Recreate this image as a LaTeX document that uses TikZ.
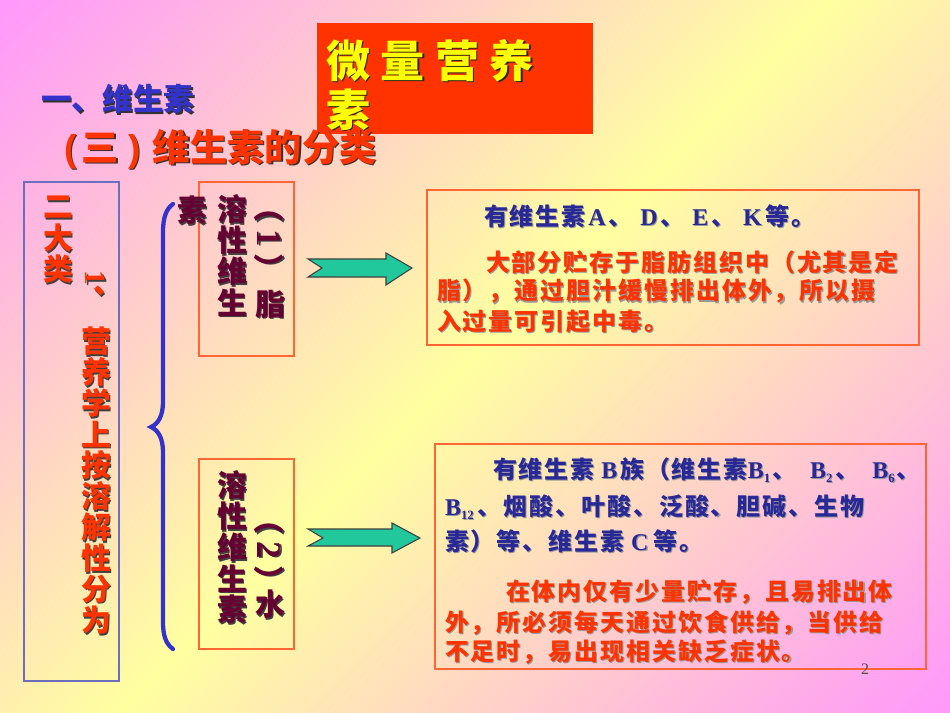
\documentclass[tikz,border=0pt]{standalone}
\usepackage{fontspec}
\usetikzlibrary{fit}
\setmainfont{Liberation Serif}
\newfontfamily\cjk{Noto Sans CJK SC}
\newfontfamily\cjkb{Noto Sans CJK SC}[LetterSpace=8]
\newfontfamily\lat{Liberation Serif}
\newfontfamily\sansl{Liberation Sans}

\definecolor{bgpink}{RGB}{255,153,250}
\definecolor{bgyellow}{RGB}{255,255,160}
\definecolor{titlebg}{RGB}{255,51,0}
\definecolor{ttyellow}{RGB}{255,255,0}
\definecolor{redtxt}{RGB}{255,51,0}
\definecolor{headblue}{RGB}{51,51,204}
\definecolor{bodyblue}{RGB}{40,40,150}
\definecolor{maroontxt}{RGB}{102,0,51}
\definecolor{boxline}{RGB}{255,102,51}
\definecolor{lavline}{RGB}{110,110,190}
\definecolor{bracecol}{RGB}{51,51,204}
\definecolor{arrowfill}{RGB}{32,200,155}

\pgfdeclarehorizontalshading{bgdiag}{100bp}{color(0bp)=(bgpink); color(15bp)=(bgpink); color(50bp)=(bgyellow); color(85bp)=(bgpink); color(100bp)=(bgpink)}

\newcommand\shd[2][black!75]{\leavevmode\rlap{\kern1.1pt\raisebox{-1.1pt}{\color{#1}#2}}#2}
\newcommand\shdr[2][black!75]{\leavevmode\rlap{\kern1.1pt\raisebox{1.1pt}{\color{#1}#2}}#2}
\newcommand\shdb[1]{\leavevmode\rlap{\kern0.8pt\raisebox{-0.8pt}{\color{black!40}#1}}#1}
\newcommand\subs[1]{\raisebox{-3pt}{\fontsize{9.5}{10}\selectfont #1}}

\tikzset{
  txt/.style={inner sep=0pt, outer sep=0pt},
  vch/.style={txt, font=\cjk\bfseries\fontsize{22.5}{24}\selectfont},
  body/.style={txt, anchor=west, font=\cjkb\bfseries\fontsize{18}{20}\selectfont},
  framebox/.style={draw=boxline, line width=1.1pt, inner sep=0pt, outer sep=0pt},
  blockarrow/.style={fill=arrowfill, draw=black!75, line width=0.8pt, line join=miter},
}

\begin{document}
\begin{tikzpicture}[x=0.75pt,y=-0.75pt]
\useasboundingbox (0,0) rectangle (950,713);
\shade[shading=bgdiag, shading angle=-45] (0,0) rectangle (950,713);

% title box
\node[fit={(317,23) (593,134)}, inner sep=0pt, fill=titlebg] (tbox) {};
\node[txt, anchor=west, font=\cjk\bfseries\fontsize{33}{36}\selectfont, text=ttyellow] (tt1) at (326,61)
  {\shd[black!85]{微\kern8pt 量\kern8pt 营\kern8pt 养}};
\node[txt, anchor=west, font=\cjk\bfseries\fontsize{33}{36}\selectfont, text=ttyellow] (tt2) at (326,110)
  {\shd[black!85]{素}};

% headings
\node[txt, anchor=west, font=\cjk\bfseries\fontsize{23}{25}\selectfont, text=headblue] (h1) at (41,100)
  {\shd[black!80]{一、维生素}};
\node[txt, anchor=west, font=\cjk\bfseries\fontsize{28}{30}\selectfont, text=redtxt] (h2) at (64,150)
  {\shd[black!80]{{\sansl\bfseries (}\kern4pt 三\kern7pt{\sansl\bfseries )}\kern9pt 维生素的分类}};

% left box
\node[fit={(24,182) (119,681)}, draw=lavline, line width=1.1pt, inner sep=0pt] (lbox) {};
\foreach \c [count=\i] in {二,大,类}
  \node[vch, text=redtxt] (lc\i) at (58, 177+31*\i) {\shd{\c}};
\node[txt, rotate=-90, font=\lat\bfseries\fontsize{22}{24}\selectfont, text=redtxt] (lone) at (96,278) {\shdr{1}};
\node[vch, text=redtxt] (ldun) at (108,292) {\shd{、}};
\foreach \c [count=\i] in {营,养,学,上,按,溶,解,性,分,为}
  \node[vch, text=redtxt] (rc\i) at (96, 311+31*\i) {\shd{\c}};

% brace
\draw[bracecol, line width=3.2pt, line cap=round]
  (173,204) .. controls (166,209) and (163,218) .. (163,232) -- (163,402)
  .. controls (163,416) and (158,424) .. (151,427)
  .. controls (158,430) and (163,438) .. (163,452) -- (163,622)
  .. controls (163,636) and (166,644) .. (173,649);

% box 1
\node[fit={(199,182) (294,356)}, framebox] (b1) {};
\foreach \c [count=\i] in {溶,性,维,生}
  \node[vch, text=maroontxt] (pa\i) at (232, 179+31*\i) {\shd{\c}};
\node[txt, rotate=-90, font=\cjk\bfseries\fontsize{22.5}{24}\selectfont, text=maroontxt] (pa-num) at (270,238)
  {\shdr{（\kern5pt{\lat\fontsize{26}{26}\selectfont 1}\kern5pt）}};
\node[vch, text=maroontxt] (pa-zhi) at (270,305) {\shd{脂}};
\node[vch, text=maroontxt] (pa-su) at (192,211) {\shd{素}};

% box 2
\node[fit={(199,459) (294,649)}, framebox] (b2) {};
\foreach \c [count=\i] in {溶,性,维,生,素}
  \node[vch, text=maroontxt] (pb\i) at (232, 455+31*\i) {\shd{\c}};
\node[txt, rotate=-90, font=\cjk\bfseries\fontsize{22.5}{24}\selectfont, text=maroontxt] (pb-num) at (270,550)
  {\shdr{（\kern5pt{\lat\fontsize{26}{26}\selectfont 2}\kern5pt）}};
\node[vch, text=maroontxt] (pb-shui) at (270,605) {\shd{水}};

% arrows
\draw[blockarrow] (308,259) -- (322,268) -- (308,277) -- (386,277) -- (386,285) -- (412,268) -- (386,253) -- (386,259) -- cycle;
\draw[blockarrow] (308,529) -- (323,538) -- (308,546) -- (392,546) -- (392,553) -- (420,538) -- (392,523) -- (392,529) -- cycle;

% text box 1
\node[fit={(427,190) (919,345)}, framebox] (t1) {};
\node[body, text=bodyblue] (t1a) at (484,217)
  {\shdb{有维生素\kern2pt{\lat\bfseries A}\kern2pt 、\kern6pt{\lat\bfseries D}\kern2pt 、\kern6pt{\lat\bfseries E}\kern2pt 、\kern6pt{\lat\bfseries K}\kern3pt 等。}};
\node[body, text=redtxt] (t1b) at (486,263) {\shdb{大部分贮存于脂肪组织中（尤其是定}};
\node[body, text=redtxt] (t1c) at (437,292) {\shdb{脂），通过胆汁缓慢排出体外，所以摄}};
\node[body, text=redtxt] (t1d) at (437,322) {\shdb{入过量可引起中毒。}};

% text box 2
\node[fit={(435,444) (926,669)}, framebox] (t2) {};
\node[body, text=bodyblue] (t2a) at (493,471)
  {\shdb{有维生素\kern5pt{\lat\bfseries B}\kern2pt 族（维生素{\lat\bfseries B\subs{1}}\kern2pt 、\kern10pt{\lat\bfseries B\subs{2}}\kern2pt 、\kern10pt{\lat\bfseries B\subs{6}}\kern1pt 、}};
\node[body, text=bodyblue] (t2b) at (445,508)
  {\shdb{{\lat\bfseries B\subs{12}}\kern3pt 、烟酸、叶酸、泛酸、胆碱、生物}};
\node[body, text=bodyblue] (t2c) at (445,542)
  {\shdb{素）等、维生素\kern5pt{\lat\bfseries C}\kern4pt 等。}};
\node[body, text=redtxt] (t2d) at (506,592) {\shdb{在体内仅有少量贮存，且易排出体}};
\node[body, text=redtxt] (t2e) at (445,623) {\shdb{外，所必须每天通过饮食供给，当供给}};
\node[body, text=redtxt] (t2f) at (445,653) {\shdb{不足时，易出现相关缺乏症状。}};

% page number
\node[txt, font=\lat\fontsize{12}{14}\selectfont, text=black!70] (pg) at (865,669) {2};
\end{tikzpicture}
\end{document}
